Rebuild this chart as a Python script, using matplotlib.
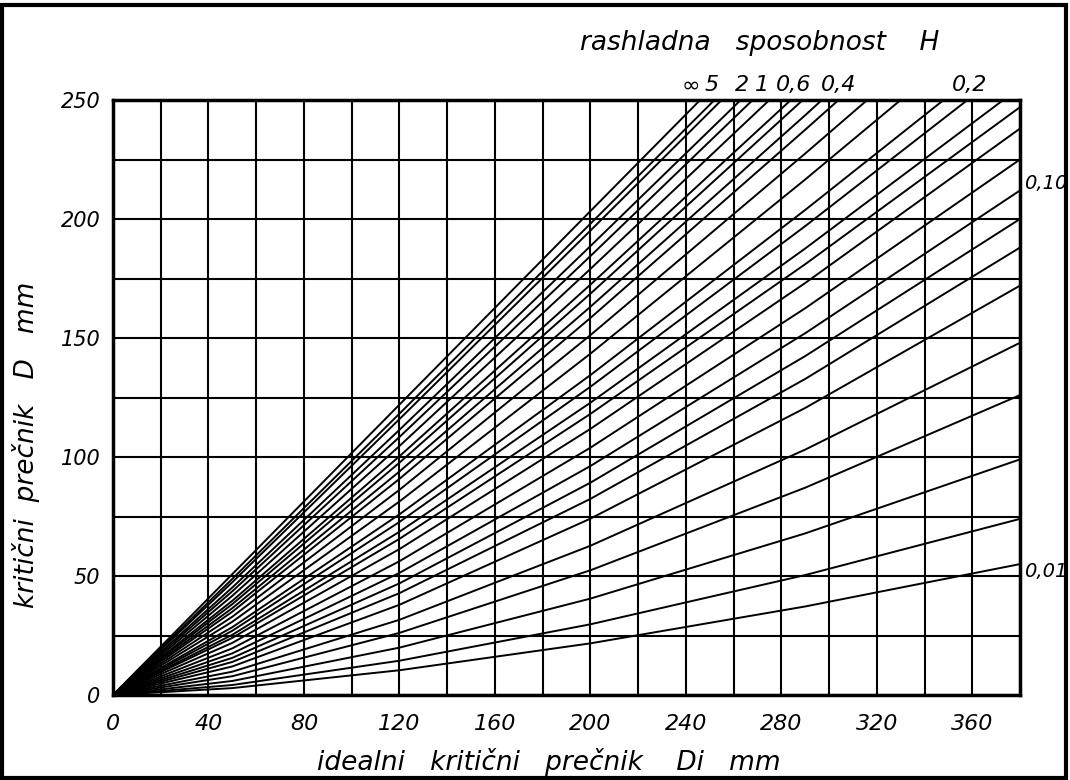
import numpy as np
import matplotlib
matplotlib.use('Agg')
import matplotlib.pyplot as plt
from matplotlib.patches import Rectangle

# Curve end points (Di, D): first 15 leave through the top edge, the rest through the right edge
end_di = [246, 252, 255, 263, 268, 275, 284, 289, 297, 304, 316, 330, 348, 358, 373,
          380, 380, 380, 380, 380, 380, 380, 380, 380, 380, 380, 380]
end_d = [250, 250, 250, 250, 250, 250, 250, 250, 250, 250, 250, 250, 250, 250, 250,
         247, 238, 225, 212, 200, 188, 172, 148, 126, 99, 74, 55]

# D read at fixed Di stations (None = curve already left the chart)
d_at_50 = [50.8, 48.8, 47.4, 45.2, 43.6, 41.7, 39.6, 38.2, 36.5, 35.0, 32.9, 30.8, 28.5, 27.0,
           25.3, 24.0, 21.9, 19.6, 17.5, 15.6, 13.9, 12.0, 9.8, 7.9, 5.9, 4.2, 2.9]
d_at_120 = [122.0, 118.2, 115.9, 111.4, 108.4, 104.6, 100.3, 97.6, 93.9, 90.8, 86.2, 81.3, 75.9,
            72.7, 68.6, 65.6, 61.3, 56.2, 51.3, 46.9, 42.8, 37.9, 31.6, 26.1, 19.9, 14.4, 10.4]
d_at_200 = [203.3, 198.0, 195.1, 188.6, 184.4, 179.0, 172.4, 168.6, 163.1, 158.4, 151.2, 143.4,
            134.4, 129.5, 122.8, 118.1, 111.8, 103.9, 96.2, 89.2, 82.4, 74.1, 62.7, 52.4, 40.5,
            29.7, 21.7]
d_at_290 = [None, None, None, None, None, None, None, None, 243.6, 237.5, 227.5, 216.6, 203.8,
            197.0, 187.6, 181.0, 173.1, 162.5, 152.0, 142.4, 132.8, 120.6, 103.1, 87.1, 67.9,
            50.4, 37.2]
stations = [50, 120, 200, 290]

# H labels
top_labels = ['\u221e', '5', '2', '1', '0,6', '0,4', '0,2']
top_label_di = [242, 251, 263.5, 272, 285, 304, 359]
right_labels = ['0,10', '0,01']
right_label_d = [215, 52]

x_ticks = list(range(0, 361, 40))
y_ticks = list(range(0, 251, 50))

fig = plt.figure(figsize=(10.7, 7.8), dpi=100)
ax = fig.add_axes([113 / 1070, 85 / 780, 907 / 1070, 595 / 780])

# grid every 20 mm / 25 mm
ax.set_xticks(x_ticks)
ax.set_xticks(range(0, 381, 20), minor=True)
ax.set_yticks(y_ticks)
ax.set_yticks(range(0, 251, 25), minor=True)
ax.grid(True, which='both', color='black', linewidth=1.5)
ax.tick_params(which='both', length=0)
ax.tick_params(axis='x', pad=14, labelsize=16)
ax.tick_params(axis='y', pad=9, labelsize=15)
for lab in ax.get_xticklabels() + ax.get_yticklabels():
    lab.set_fontstyle('italic')
ax.set_xlim(0, 380)
ax.set_ylim(0, 250)
for sp in ax.spines.values():
    sp.set_linewidth(2.5)

# curves
for i in range(len(end_di)):
    xs = [0]
    ys = [0]
    for s, col in zip(stations, [d_at_50, d_at_120, d_at_200, d_at_290]):
        if col[i] is not None and s < end_di[i]:
            xs.append(s)
            ys.append(col[i])
    xs.append(end_di[i])
    ys.append(end_d[i])
    ax.plot(xs, ys, color='black', linewidth=1.4, solid_capstyle='butt')

# labels for H
for lab, xd in zip(top_labels, top_label_di):
    ax.text(xd, 252, lab, ha='center', va='bottom', fontsize=16, style='italic', clip_on=False)
for lab, yd in zip(right_labels, right_label_d):
    ax.text(381.5, yd, lab, ha='left', va='center', fontsize=14, style='italic', clip_on=False)

fig.text(0.71, 0.945, 'rashladna   sposobnost    H', ha='center', va='center',
         fontsize=19, style='italic')
fig.text(0.513, 0.023, 'idealni   kritični   prečnik    Di   mm', ha='center', va='center',
         fontsize=19, style='italic')
fig.text(0.024, 0.43, 'kritični  prečnik   D   mm', ha='center', va='center',
         fontsize=19, style='italic', rotation=90)

# frame around the whole picture
fig.patches.append(Rectangle((0.002, 0.002), 0.994, 0.991, transform=fig.transFigure,
                             fill=False, edgecolor='black', linewidth=3))

fig.savefig('out.png', dpi=100, facecolor='white')
